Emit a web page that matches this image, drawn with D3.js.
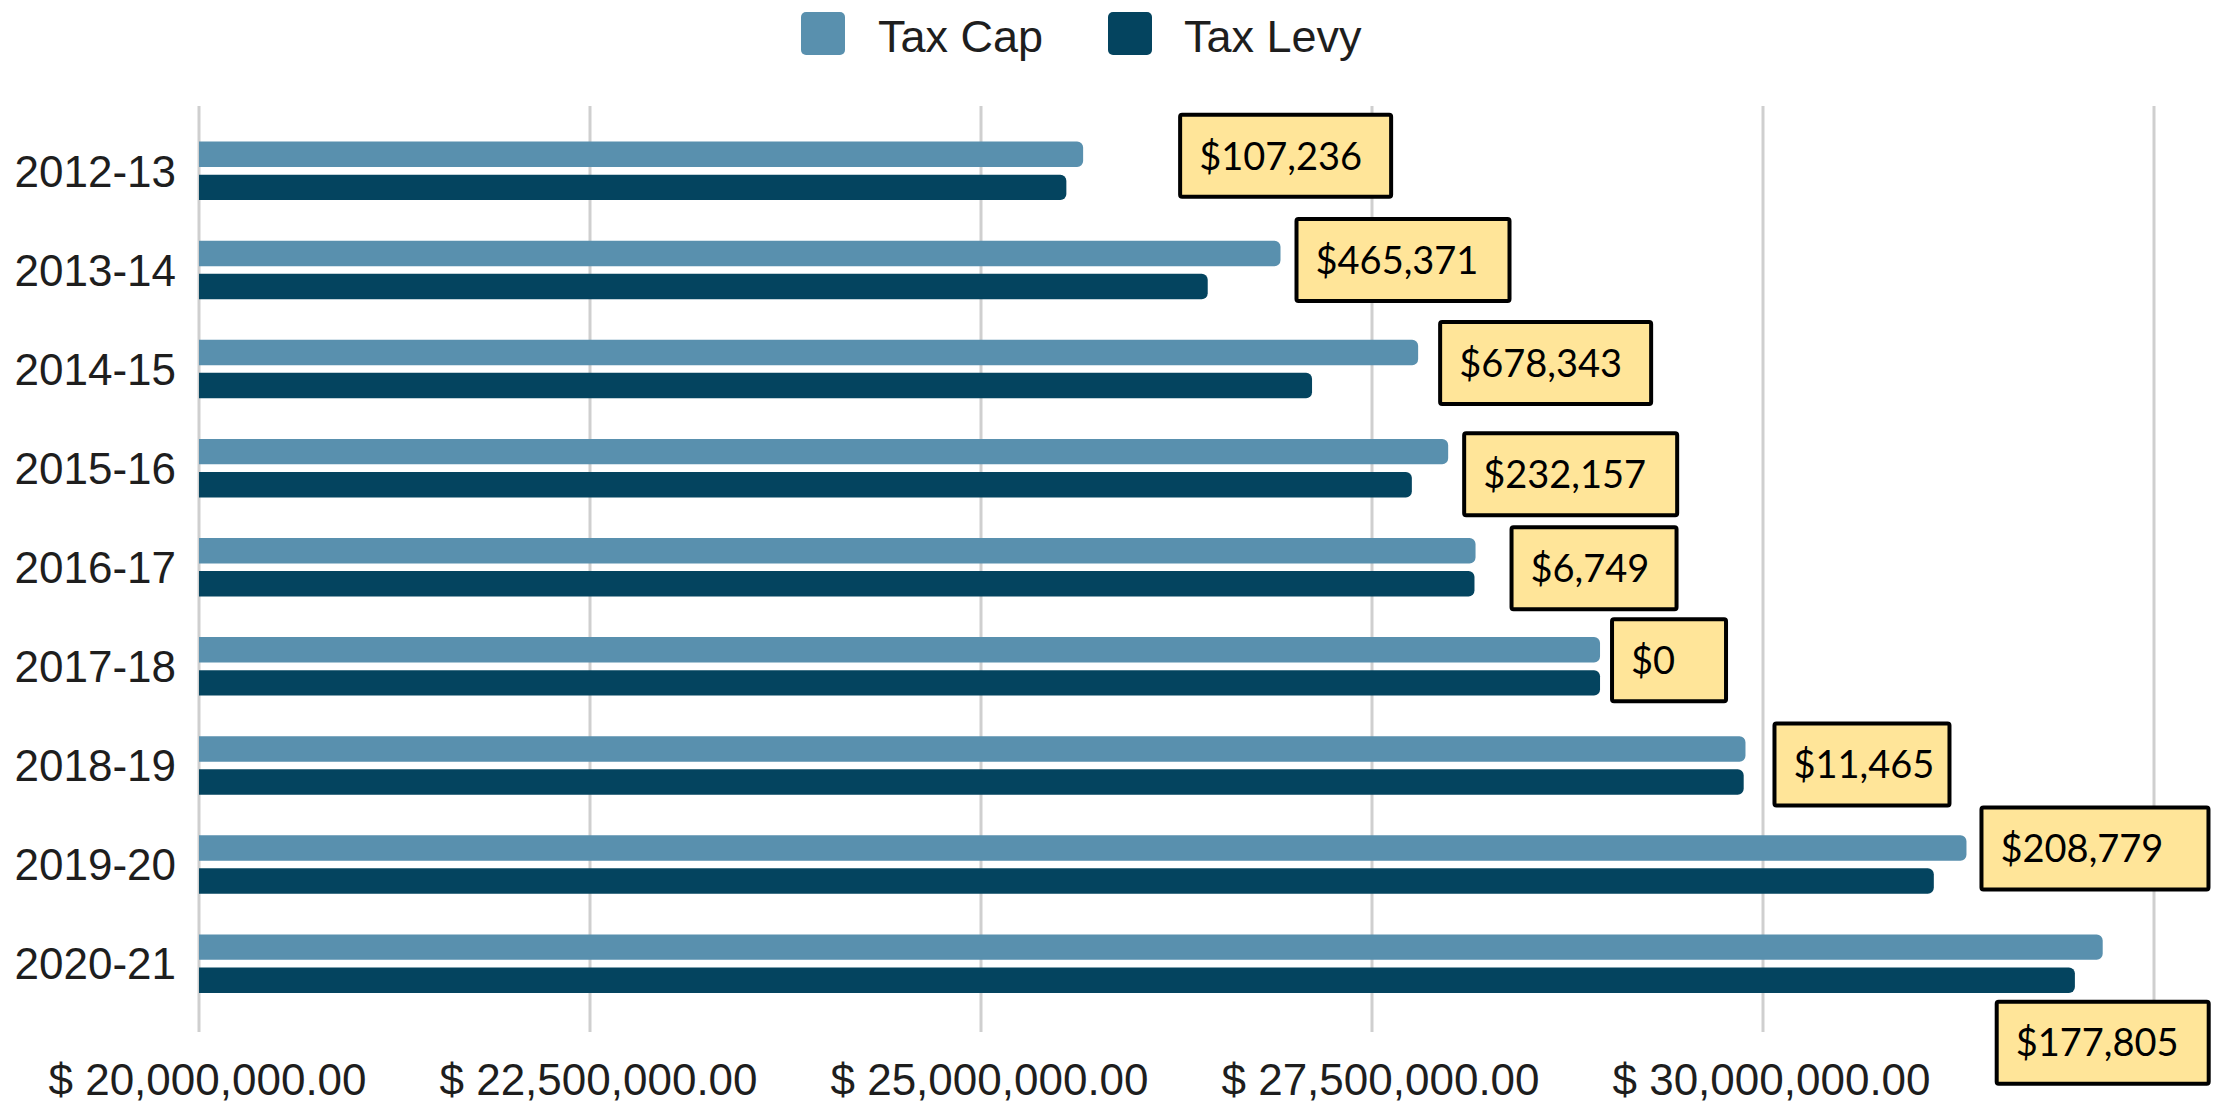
<!DOCTYPE html>
<html>
<head>
<meta charset="utf-8">
<script src="https://cdn.jsdelivr.net/npm/d3@7"></script>
<style>
  html, body { margin: 0; padding: 0; background: #ffffff; }
  svg { display: block; }
</style>
</head>
<body>
<svg id="chart" width="2218" height="1104"></svg>
<script>
// ---------------- DATA ----------------
const categories = ["2012-13", "2013-14", "2014-15", "2015-16", "2016-17", "2017-18", "2018-19", "2019-20", "2020-21"];
const seriesNames = ["Tax Cap", "Tax Levy"];
const taxCap  = [25653000, 26915000, 27795000, 27987000, 28162000, 28958000, 29888000, 31301000, 32172000];
const taxLevy = [25545764, 26449629, 27116657, 27754843, 28155251, 28958000, 29876535, 31092221, 31994195];
const differenceLabels = ["$107,236", "$465,371", "$678,343", "$232,157", "$6,749", "$0", "$11,465", "$208,779", "$177,805"];
const tickValues = [20000000, 22500000, 25000000, 27500000, 30000000, 32500000];
const tickLabels = ["$ 20,000,000.00", "$ 22,500,000.00", "$ 25,000,000.00", "$ 27,500,000.00", "$ 30,000,000.00", ""];

// ---------------- LAYOUT / STYLE ----------------
const W = 2218, H = 1104;
const colors = { "Tax Cap": "#5990ae", "Tax Levy": "#04445f" };
const labelFont = "'Liberation Sans', Arial, sans-serif";
const annotFont = "Lato, 'Noto Sans', sans-serif";
// annotation box nudges relative to (end of Tax Cap bar, category centre)
const annotLayout = [
  { dx: 95,   dy: -15, w: 215 },
  { dx: 14,   dy: -10, w: 217 },
  { dx: 20,   dy: -6,  w: 215 },
  { dx: 14,   dy: 6,   w: 217 },
  { dx: 34,   dy: 1,   w: 169 },
  { dx: 10,   dy: -6,  w: 118 },
  { dx: 27,   dy: -1,  w: 179 },
  { dx: 13,   dy: -16, w: 231 },
  { dx: -108, dy: 79,  w: 216 }
];

const svg = d3.select("#chart");

const x = d3.scaleLinear().domain([20000000, 32500000]).range([199, 2154]);
const y = d3.scaleBand().domain(categories).range([121.3, 1013.2]).paddingInner(0.41).paddingOuter(0.205);
const ySub = d3.scaleBand().domain(seriesNames).range([0, y.bandwidth()]).paddingInner(0.23).paddingOuter(0);

// gridlines
svg.append("g").selectAll("line")
  .data(tickValues)
  .join("line")
  .attr("x1", d => x(d)).attr("x2", d => x(d))
  .attr("y1", 106).attr("y2", 1032)
  .attr("stroke", "#cfcfcf")
  .attr("stroke-width", 3);

// bottom axis labels
const xAxis = d3.axisBottom(x)
  .tickValues(tickValues)
  .tickFormat((d, i) => tickLabels[i])
  .tickSize(0)
  .tickPadding(0);
const gx = svg.append("g").attr("transform", "translate(8,1095)").call(xAxis);
gx.select(".domain").remove();
gx.selectAll("text")
  .attr("y", 0).attr("dy", 0)
  .attr("font-family", labelFont)
  .attr("font-size", 44)
  .attr("fill", "#1e1e1e");

// left category labels
const yAxis = d3.axisLeft(y).tickSize(0).tickPadding(0);
const gy = svg.append("g").attr("transform", "translate(176,0)").call(yAxis);
gy.select(".domain").remove();
gy.selectAll("text")
  .attr("x", 0)
  .attr("dy", "0.36em")
  .attr("font-family", labelFont)
  .attr("font-size", 44)
  .attr("fill", "#1e1e1e");

// bars with rounded right end
function barPath(x0, x1, y0, h, r) {
  r = Math.min(r, h / 2, Math.max(0, x1 - x0));
  return `M${x0},${y0} H${x1 - r} A${r},${r} 0 0 1 ${x1},${y0 + r} V${y0 + h - r} A${r},${r} 0 0 1 ${x1 - r},${y0 + h} H${x0} Z`;
}

const rows = categories.map((c, i) => ({ cat: c, values: [
  { series: "Tax Cap", value: taxCap[i] },
  { series: "Tax Levy", value: taxLevy[i] }
]}));

const groups = svg.append("g").selectAll("g")
  .data(rows)
  .join("g")
  .attr("transform", d => `translate(0,${y(d.cat)})`);

groups.selectAll("path")
  .data(d => d.values)
  .join("path")
  .attr("d", d => barPath(x(20000000), x(d.value), ySub(d.series), ySub.bandwidth(), 6))
  .attr("fill", d => colors[d.series]);

// annotations
const annot = svg.append("g").selectAll("g")
  .data(categories.map((c, i) => ({ cat: c, cap: taxCap[i], label: differenceLabels[i], lay: annotLayout[i] })))
  .join("g")
  .attr("transform", d => `translate(${x(d.cap) + d.lay.dx},${y(d.cat) + y.bandwidth() / 2 + d.lay.dy - 43})`);

annot.append("rect")
  .attr("x", 2).attr("y", 2)
  .attr("width", d => d.lay.w - 4)
  .attr("height", 82)
  .attr("rx", 2)
  .attr("fill", "#ffe599")
  .attr("stroke", "#000")
  .attr("stroke-width", 4);

annot.append("text")
  .attr("x", 21)
  .attr("y", 43)
  .attr("dy", "0.36em")
  .attr("font-family", annotFont)
  .attr("font-size", 38)
  .attr("fill", "#000")
  .text(d => d.label);

// legend
const legendItems = [
  { name: "Tax Cap", x: 801, tx: 878 },
  { name: "Tax Levy", x: 1108, tx: 1184 }
];
const lg = svg.append("g").selectAll("g").data(legendItems).join("g");
lg.append("rect")
  .attr("x", d => d.x).attr("y", 12)
  .attr("width", 44).attr("height", 43)
  .attr("rx", 5)
  .attr("fill", d => colors[d.name]);
lg.append("text")
  .attr("x", d => d.tx).attr("y", 52)
  .attr("font-family", labelFont)
  .attr("font-size", 45)
  .attr("fill", "#1e1e1e")
  .text(d => d.name);
</script>
</body>
</html>
